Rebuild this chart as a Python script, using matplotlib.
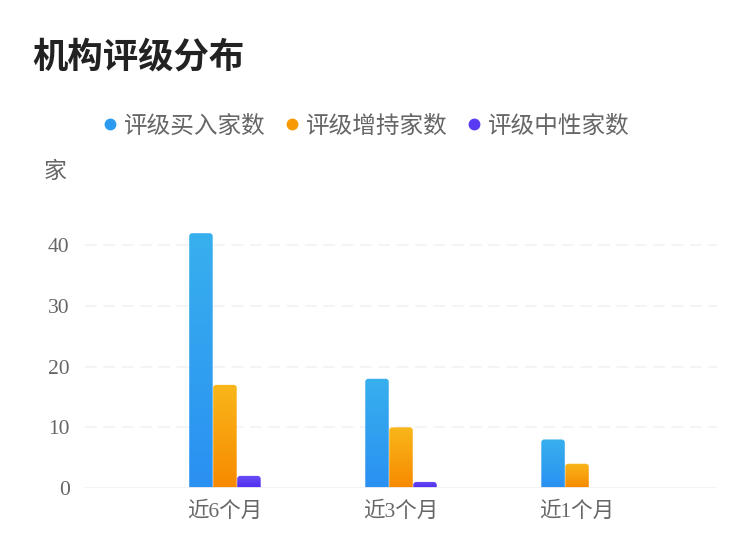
import numpy as np
import matplotlib
matplotlib.use("Agg")
from matplotlib import pyplot as plt
from matplotlib.patches import FancyBboxPatch
from matplotlib.colors import LinearSegmentedColormap
from matplotlib.lines import Line2D

plt.rcParams["font.family"] = ["Noto Sans CJK SC", "DejaVu Sans"]

categories = ["近6个月", "近3个月", "近1个月"]
series_names = ["评级买入家数", "评级增持家数", "评级中性家数"]
buy = [42, 18, 8]
add = [17, 10, 4]
neutral = [2, 1, 0]
yticks = [0, 10, 20, 30, 40]

# top colour, bottom colour for each series
grads = [("#38b0ee", "#2a90f2"), ("#f9b71b", "#f78900"), ("#6c50f6", "#4e2bf0")]
legend_colors = ["#2b9bf0", "#f79a05", "#5a3af2"]

fig = plt.figure(figsize=(7.5, 5.58), dpi=100)
ax = fig.add_axes([85 / 750, 1 - 488 / 558, 632 / 750, (488 - 215) / 558])

xlo, xhi = -0.795, 2.795
ylo, yhi = 0, 45
ax.set_xlim(xlo, xhi)
ax.set_ylim(ylo, yhi)

# data units per pixel, for rounded corners
px_x = (xhi - xlo) / 632
px_y = (yhi - ylo) / 273
width = 23.5 * px_x
offsets = [-24 * px_x, 0, 24 * px_x]

for vals, (ctop, cbot), off in zip([buy, add, neutral], grads, offsets):
    cmap = LinearSegmentedColormap.from_list("g", [cbot, ctop])
    grad = np.linspace(0, 1, 256).reshape(-1, 1)
    for i, v in enumerate(vals):
        if v <= 0:
            continue
        x0 = i + off - width / 2
        patch = FancyBboxPatch((x0, -2), width, v + 2,
                               boxstyle="round,pad=0,rounding_size=%f" % (3 * px_x),
                               mutation_aspect=px_y / px_x,
                               facecolor="none", edgecolor="none")
        ax.add_patch(patch)
        im = ax.imshow(grad, cmap=cmap, origin="lower", aspect="auto",
                       extent=[x0, x0 + width, 0, v], zorder=2)
        im.set_clip_path(patch)

ax.set_xlim(xlo, xhi)
ax.set_ylim(ylo, yhi)

for y in yticks[1:]:
    ax.axhline(y, color="#f2f2f2", lw=1.2, ls=(0, (7, 4)), zorder=1)
ax.axhline(0, color="#f2f2f2", lw=2, zorder=3)

for s in ax.spines.values():
    s.set_visible(False)

tick_font = ["Liberation Serif", "Noto Sans CJK SC"]
ax.set_yticks(yticks)
ax.set_yticklabels([str(t) for t in yticks], family=tick_font, fontsize=15.5, color="#666666")
ax.set_xticks(range(len(categories)))
ax.set_xticklabels(categories, family=tick_font, fontsize=15.5, color="#666666")
ax.tick_params(axis="y", length=0, pad=11)
ax.tick_params(axis="x", length=0, pad=10)

fig.text(32 / 750, 1 - 57 / 558, "机构评级分布", fontsize=25.5, fontweight="bold",
         color="#222222", va="center", ha="left")
fig.text(44 / 750, 1 - 171 / 558, "家", fontsize=16.5, color="#666666",
         va="center", ha="left")

handles = [Line2D([], [], marker="o", ls="none", markersize=7.5,
                  markerfacecolor=c, markeredgecolor=c) for c in legend_colors]
fig.legend(handles, series_names, loc="center", bbox_to_anchor=(364 / 750, 1 - 126 / 558),
           ncol=3, frameon=False, fontsize=17, labelcolor="#666666",
           handletextpad=0.1, columnspacing=0.72, handlelength=0.9)

fig.savefig("out.png", dpi=100)
